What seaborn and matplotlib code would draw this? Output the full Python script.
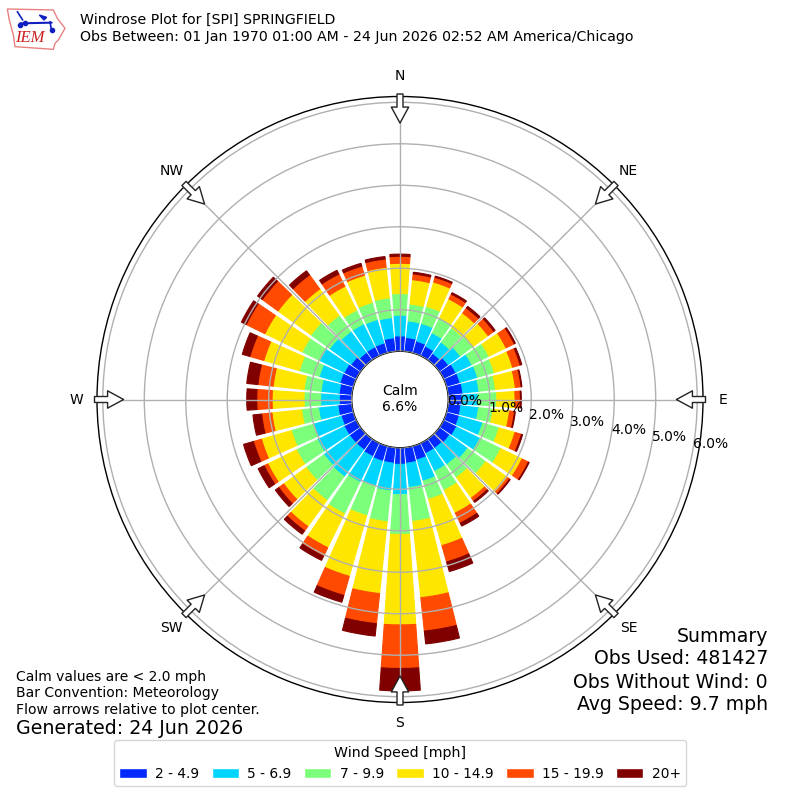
import numpy as np
import pandas as pd
import seaborn as sns
import matplotlib
matplotlib.use("Agg")
import matplotlib.pyplot as plt
from matplotlib.patches import Patch, Polygon

# frecuencia (%) por direccion, cada 10 grados desde el norte
directions = list(range(0, 360, 10))
speed_2_5 = [.37, .34, .30, .26, .20, .27, .33, .34, .36, .33, .31, .32, .35, .31, .28, .28, .35, .38,
             .40, .38, .38, .36, .33, .33, .33, .31, .34, .30, .31, .34, .33, .29, .23, .24, .25, .33]
speed_5_7 = [.50, .40, .44, .36, .34, .36, .43, .44, .39, .39, .43, .59, .63, .54, .49, .48, .53, .59,
             .73, .67, .62, .69, .80, .77, .72, .69, .47, .45, .44, .52, .66, .64, .63, .62, .59, .49]
speed_7_10 = [.52, .41, .43, .41, .43, .37, .46, .42, .40, .45, .35, .41, .56, .54, .39, .51, .46, .82,
              .96, .75, .75, .85, .71, .53, .56, .56, .41, .40, .41, .50, .47, .56, .48, .37, .43, .48]
speed_10_15 = [.73, .59, .61, .50, .44, .46, .46, .46, .48, .44, .40, .40, .57, .65, .61, .61, 1.16, 1.85,
               2.18, 1.74, 1.52, .91, .78, .67, .77, .75, .72, .77, .75, .89, 1.00, .98, .79, .64, .68, .74]
speed_15_20 = [.17, .14, .12, .13, .15, .17, .22, .19, .14, .13, .12, .16, .17, .06, .09, .27, .41, .81,
               1.05, .73, .48, .23, .13, .15, .10, .20, .25, .37, .37, .35, .50, .47, .42, .33, .23, .20]
speed_20 = [.05, .04, .03, .04, .05, .04, .03, .04, .02, .02, .02, .03, .02, .02, .04, .08, .24, .31,
            .54, .30, .17, .11, .10, .10, .16, .25, .21, .24, .27, .19, .13, .14, .12, .10, .07, .06]

series = [speed_2_5, speed_5_7, speed_7_10, speed_10_15, speed_15_20, speed_20]
bin_labels = ["2 - 4.9", "5 - 6.9", "7 - 9.9", "10 - 14.9", "15 - 19.9", "20+"]
bin_colors = ["#0028ff", "#00d5ff", "#7cff7a", "#ffe600", "#ff4a00", "#800000"]

ring_ticks = [0, 1, 2, 3, 4, 5, 6]
ring_labels = ["0.0%", "1.0%", "2.0%", "3.0%", "4.0%", "5.0%", "6.0%"]
compass_deg = [0, 45, 90, 135, 180, 225, 270, 315]
compass_labels = ["N", "NE", "E", "SE", "S", "SW", "W", "NW"]

sns.set_style("whitegrid", {"text.color": "black", "xtick.color": "black", "ytick.color": "black",
                            "axes.edgecolor": "black", "grid.color": "#b0b0b0",
                            "axes.labelcolor": "black"})
plt.rcParams["font.family"] = ["DejaVu Sans"]
plt.rcParams["grid.linewidth"] = 1.0
plt.rcParams["axes.linewidth"] = 1.0

fig = plt.figure(figsize=(8, 8), dpi=100)
ax = fig.add_axes([97 / 800, 97.5 / 800, 606 / 800, 606 / 800], polar=True)
ax.set_theta_zero_location("N")
ax.set_theta_direction(-1)

df = pd.DataFrame({"theta": np.radians(directions)})
base = np.zeros(len(directions))
for vals, color in zip(series, bin_colors):
    df["freq"] = vals
    sns.barplot(data=df, x="theta", y="freq", native_scale=True, width=0.8, bottom=base, color=color,
                saturation=1, errorbar=None, linewidth=0.8, edgecolor=color, legend=False, ax=ax)
    base = base + np.array(vals)

ax.set_xlabel("")
ax.set_ylabel("")
ax.set_xlim(0, 2 * np.pi)
ax.set_rorigin(-1.164)
ax.set_ylim(0, 6.14)
ax.set_thetagrids(compass_deg, compass_labels)
ax.set_yticks(ring_ticks)
ax.set_yticklabels(ring_labels)
ax.set_rlabel_position(100)
ax.grid(True)
ax.set_axisbelow(False)
ax.tick_params(axis="x", pad=4)

# flechas blancas en el borde
for deg in compass_deg:
    ax.annotate("", xy=(np.radians(deg), 5.5), xytext=(np.radians(deg), 6.2), annotation_clip=False,
                arrowprops=dict(width=4.3, headwidth=12.5, headlength=11.5, shrink=0,
                                facecolor="white", edgecolor="#222222", linewidth=1), zorder=5)


def px(x, y):
    return x / 800, 1 - y / 800


fig.text(*px(400, 399), "Calm\n6.6%", ha="center", va="center", fontsize=10)
fig.text(*px(80, 20), "Windrose Plot for [SPI] SPRINGFIELD", va="center", fontsize=10.2)
fig.text(*px(80, 37), "Obs Between: 01 Jan 1970 01:00 AM - 24 Jun 2026 02:52 AM America/Chicago",
         va="center", fontsize=10.2)

fig.text(*px(16, 677), "Calm values are < 2.0 mph", va="center", fontsize=10)
fig.text(*px(16, 693), "Bar Convention: Meteorology", va="center", fontsize=10)
fig.text(*px(16, 710), "Flow arrows relative to plot center.", va="center", fontsize=10.1)
fig.text(*px(16, 729), "Generated: 24 Jun 2026", va="center", fontsize=13.7)

fig.text(*px(768, 636), "Summary", ha="right", va="center", fontsize=13.6)
fig.text(*px(768, 659), "Obs Used: 481427", ha="right", va="center", fontsize=13.6)
fig.text(*px(768, 682), "Obs Without Wind: 0", ha="right", va="center", fontsize=13.6)
fig.text(*px(768, 705), "Avg Speed: 9.7 mph", ha="right", va="center", fontsize=13.6)

handles = [Patch(facecolor=c, label=l) for c, l in zip(bin_colors, bin_labels)]
fig.legend(handles=handles, ncol=6, title="Wind Speed [mph]", loc="lower center",
           bbox_to_anchor=(0.5, 0.00875), fontsize=9.9, title_fontsize=10.2,
           columnspacing=0.9, handletextpad=0.6)

# logo IEM
logo = fig.add_axes([0, 1 - 55 / 800, 70 / 800, 55 / 800])
logo.set_xlim(0, 210)
logo.set_ylim(165, 0)
logo.axis("off")
logo.add_patch(Polygon([(22, 27), (160, 30), (172, 55), (195, 85), (175, 120), (165, 130), (160, 148),
                        (45, 140), (40, 105), (28, 60)], closed=True, fill=False,
                       edgecolor="#e88080", linewidth=1))
logo.plot([60, 155], [70, 68], color="#1020c0", linewidth=1.5)
logo.plot([52, 68], [35, 60], color="#1020c0", linewidth=1.2)
logo.plot([150, 155], [65, 95], color="#1020c0", linewidth=1.2)
logo.add_patch(Polygon([(118, 45), (140, 52), (132, 60)], closed=True, color="#1020c0"))
logo.plot([75, 60, 155], [70, 74, 90], "o", color="#1020c0", markersize=3)
logo.text(90, 113, "IEM", color="#cc2020", fontsize=12, style="italic", family="Liberation Serif",
          ha="center", va="center")

fig.savefig("out.png", dpi=100)
